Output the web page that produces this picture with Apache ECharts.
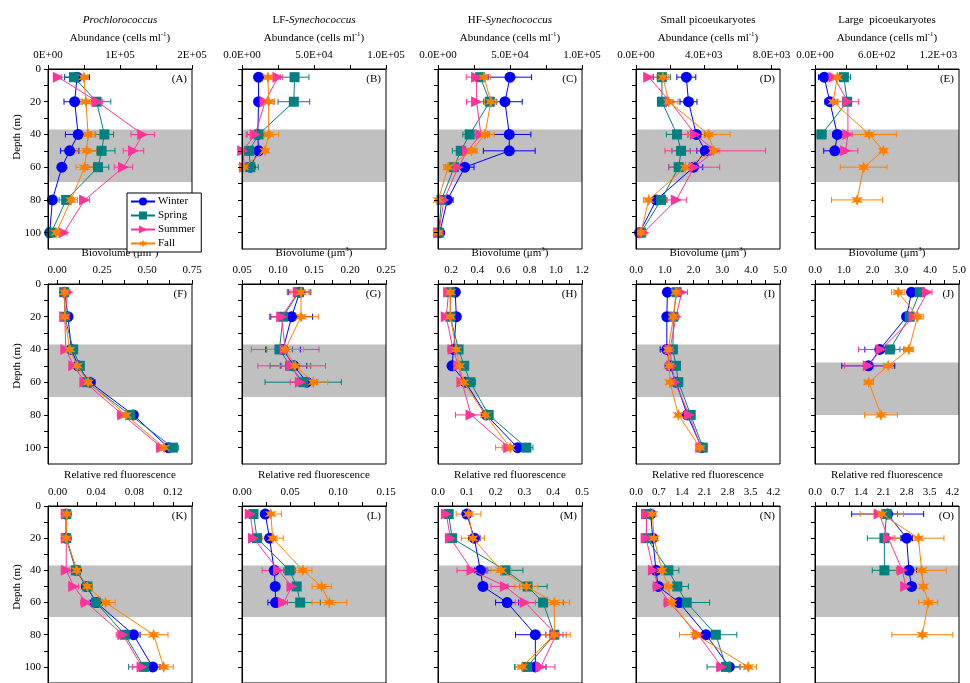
<!DOCTYPE html>
<html><head><meta charset="utf-8">
<script src="https://cdn.jsdelivr.net/npm/echarts@6/dist/echarts.min.js"></script>
<style>html,body{margin:0;padding:0;background:#fff}#c{width:970px;height:683px}</style>
</head><body><div id="c"></div>
<script>
// ---------------- DATA ----------------
const depths = [5, 20, 40, 50, 60, 80, 100];
const seasons = ['Winter', 'Spring', 'Summer', 'Fall'];
const shadedDepths = [37, 69];
const shadedDepthsJ = [48, 80];

// rows of each array: Winter, Spring, Summer, Fall ; columns follow depths
const A_mean = [
  [40300, 37000, 41900, 30100, 19200, 6100, 2400],
  [36000, 67500, 78300, 74400, 69500, 25200, 4500],
  [14300, 68500, 131500, 118700, 104900, 50800, 22200],
  [49800, 52700, 55700, 53700, 50800, 32000, 11400]];
const A_sd = [
  [17400, 14800, 17700, 12800, 4000, 2000, 1000],
  [12800, 19700, 12800, 18700, 15000, 9800, 2000],
  [4000, 7000, 16300, 14300, 12800, 7000, 4000],
  [6000, 7000, 10800, 13800, 11800, 8900, 3000]];

const B_mean = [
  [11500, 11500, 11000, 11500, 5800, null, null],
  [36500, 36000, 11500, 5000, 5800, null, null],
  [25000, 16000, 9200, 500, 1800, null, null],
  [18000, 18500, 18500, 16000, 1100, null, null]];
const B_sd = [
  [2600, 2800, 3000, 4000, 2000, null, null],
  [10000, 11000, 8000, 3000, 5500, null, null],
  [3000, 6300, 6300, 800, 1000, null, null],
  [3000, 4000, 7000, 2000, 1000, null, null]];

const C_mean = [
  [50000, 46500, 49500, 49500, 18600, 6500, 1200],
  [29300, 36000, 22000, 15800, 11200, 2400, 500],
  [26800, 26800, 29800, 20500, 14000, 4200, 500],
  [32000, 36700, 32600, 23300, 7000, 200, 0]];
const C_sd = [
  [15000, 12000, 15000, 18000, 6400, 4000, 800],
  [5000, 4500, 4700, 5800, 5800, 2000, 500],
  [7200, 7000, 5800, 5800, 4000, 2000, 500],
  [4300, 4300, 6400, 4000, 3000, 500, 300]];

const D_mean = [
  [2970, 3100, 3560, 4090, 3400, 1200, 210],
  [1530, 1530, 2420, 2660, 2520, 1480, 290],
  [750, 2020, 3500, 4680, 3440, 2380, 450],
  [1590, 1930, 4290, 4580, 2910, 750, 290]];
const D_sd = [
  [560, 500, 500, 500, 540, 400, 150],
  [500, 250, 630, 540, 590, 350, 150],
  [200, 540, 840, 2970, 1500, 590, 150],
  [350, 540, 1260, 370, 500, 300, 150]];

const E_mean = [
  [90, 144, 217, 192, null, null, null],
  [281, 313, 64, null, null, null, null],
  [185, 320, 320, 297, null, null, null],
  [217, 176, 527, 665, 473, 409, null]];
const E_sd = [
  [56, 48, 40, 107, null, null, null],
  [64, 40, 43, null, null, null, null],
  [48, 104, 40, 120, null, null, null],
  [56, 48, 264, 30, 227, 248, null]];

const F_mean = [
  [0.043, 0.061, 0.080, 0.117, 0.182, 0.424, 0.619],
  [0.040, 0.043, 0.090, 0.127, 0.167, 0.406, 0.644],
  [0.060, 0.043, 0.049, 0.093, 0.155, 0.365, 0.582],
  [0.043, 0.043, 0.071, 0.112, 0.173, 0.383, 0.595]];
const F_sd = [
  [0.010, 0.010, 0.015, 0.020, 0.030, 0.020, 0.030],
  [0.010, 0.010, 0.015, 0.020, 0.030, 0.030, 0.030],
  [0.012, 0.010, 0.015, 0.020, 0.025, 0.030, 0.030],
  [0.010, 0.010, 0.015, 0.020, 0.030, 0.040, 0.030]];

const G_mean = [
  [0.130, 0.119, 0.107, 0.122, 0.140, null, null],
  [0.129, 0.107, 0.102, 0.117, 0.135, null, null],
  [0.128, 0.105, 0.110, 0.119, 0.131, null, null],
  [0.132, 0.132, 0.110, 0.124, 0.149, null, null]];
const G_sd = [
  [0.015, 0.029, 0.024, 0.018, 0.014, null, null],
  [0.016, 0.018, 0.018, 0.028, 0.053, null, null],
  [0.015, 0.017, 0.047, 0.047, 0.014, null, null],
  [0.014, 0.024, 0.025, 0.022, 0.020, null, null]];

const H_mean = [
  [0.232, 0.240, 0.219, 0.207, 0.309, 0.469, 0.708],
  [0.194, 0.194, 0.257, 0.300, 0.347, 0.487, 0.775],
  [0.181, 0.163, 0.215, 0.257, 0.283, 0.352, 0.640],
  [0.194, 0.194, 0.240, 0.265, 0.296, 0.461, 0.652]];
const H_sd = [
  [0.02, 0.02, 0.02, 0.02, 0.03, 0.03, 0.05],
  [0.02, 0.02, 0.03, 0.03, 0.04, 0.03, 0.05],
  [0.02, 0.03, 0.04, 0.02, 0.03, 0.118, 0.05],
  [0.02, 0.02, 0.02, 0.02, 0.03, 0.03, 0.112]];

const I_mean = [
  [1.09, 1.07, 1.07, 1.18, 1.39, 1.78, 2.28],
  [1.41, 1.30, 1.28, 1.39, 1.47, 1.90, 2.32],
  [1.59, 1.39, 1.18, 1.24, 1.35, 1.85, 2.25],
  [1.39, 1.30, 1.12, 1.15, 1.18, 1.47, 2.22]];
const I_sd = [
  [0.10, 0.10, 0.23, 0.10, 0.10, 0.10, 0.12],
  [0.10, 0.10, 0.10, 0.10, 0.12, 0.10, 0.10],
  [0.20, 0.10, 0.10, 0.10, 0.10, 0.10, 0.10],
  [0.10, 0.10, 0.10, 0.10, 0.12, 0.10, 0.10]];

const J_mean = [
  [3.35, 3.18, 2.25, 1.85, null, null, null],
  [3.64, 3.29, 2.60, null, null, null, null],
  [3.90, 3.44, 2.29, 1.85, null, null, null],
  [2.89, 3.56, 3.26, 2.54, 1.87, 2.29, null]];
const J_sd = [
  [0.10, 0.13, 0.52, 0.92, null, null, null],
  [0.10, 0.23, 0.35, null, null, null, null],
  [0.16, 0.20, 0.78, 0.83, null, null, null],
  [0.23, 0.20, 0.15, 0.16, 0.16, 0.57, null]];

const K_mean = [
  [0.0090, 0.0090, 0.0196, 0.0300, 0.0404, 0.0790, 0.0990],
  [0.0090, 0.0090, 0.0190, 0.0310, 0.0400, 0.0700, 0.0900],
  [0.0090, 0.0090, 0.0090, 0.0168, 0.0300, 0.0680, 0.0880],
  [0.0095, 0.0090, 0.0200, 0.0310, 0.0500, 0.1000, 0.1105]];
const K_sd = [
  [0.001, 0.001, 0.002, 0.004, 0.006, 0.007, 0.008],
  [0.001, 0.001, 0.002, 0.005, 0.007, 0.007, 0.016],
  [0.001, 0.001, 0.003, 0.005, 0.006, 0.007, 0.010],
  [0.001, 0.001, 0.002, 0.005, 0.010, 0.015, 0.010]];

const L_mean = [
  [0.0242, 0.0287, 0.0336, 0.0346, 0.0350, null, null],
  [0.0120, 0.0156, 0.0495, 0.0570, 0.0606, null, null],
  [0.0086, 0.0120, 0.0380, 0.0520, 0.0433, null, null],
  [0.0300, 0.0320, 0.0634, 0.0830, 0.0910, null, null]];
const L_sd = [
  [0.003, 0.004, 0.004, 0.002, 0.008, null, null],
  [0.004, 0.004, 0.006, 0.004, 0.021, null, null],
  [0.003, 0.004, 0.017, 0.004, 0.004, null, null],
  [0.011, 0.011, 0.0095, 0.010, 0.018, null, null]];

const M_mean = [
  [0.100, 0.126, 0.147, 0.156, 0.240, 0.338, 0.338],
  [0.037, 0.049, 0.234, 0.311, 0.365, 0.404, 0.309],
  [0.029, 0.043, 0.118, 0.234, 0.303, 0.410, 0.357],
  [0.106, 0.121, 0.219, 0.307, 0.404, 0.404, 0.292]];
const M_sd = [
  [0.010, 0.020, 0.020, 0.010, 0.040, 0.069, 0.037],
  [0.010, 0.010, 0.061, 0.068, 0.070, 0.030, 0.043],
  [0.010, 0.010, 0.052, 0.050, 0.035, 0.035, 0.049],
  [0.043, 0.040, 0.035, 0.040, 0.053, 0.055, 0.023]];

const N_mean = [
  [0.45, 0.51, 0.61, 0.68, 1.32, 2.14, 2.85],
  [0.31, 0.33, 0.99, 1.26, 1.55, 2.44, 2.75],
  [0.33, 0.31, 0.53, 0.68, 1.02, 1.90, 2.62],
  [0.50, 0.55, 0.79, 0.99, 1.09, 1.83, 3.43]];
const N_sd = [
  [0.10, 0.10, 0.10, 0.15, 0.10, 0.30, 0.33],
  [0.10, 0.10, 0.32, 0.34, 0.70, 0.64, 0.58],
  [0.10, 0.10, 0.10, 0.10, 0.10, 0.15, 0.15],
  [0.10, 0.10, 0.10, 0.10, 0.25, 0.50, 0.25]];

const O_mean = [
  [2.22, 2.80, 2.87, 2.95, null, null, null],
  [2.19, 2.12, 2.12, null, null, null, null],
  [1.96, 2.24, 2.67, 2.77, null, null, null],
  [2.04, 3.16, 3.26, 3.31, 3.46, 3.28, null]];
const O_sd = [
  [1.10, 0.18, 0.23, 0.05, null, null, null],
  [0.33, 0.52, 0.37, null, null, null, null],
  [0.15, 0.20, 0.18, 0.05, null, null, null],
  [0.66, 0.78, 0.75, 0.10, 0.29, 0.93, null]];

// tick labels
const A_tickValues = [0, 100000, 200000];     const A_tickLabels = ['0E+00', '1E+05', '2E+05'];
const B_tickValues = [0, 50000, 100000];      const B_tickLabels = ['0.0E+00', '5.0E+04', '1.0E+05'];
const C_tickValues = [0, 50000, 100000];      const C_tickLabels = ['0.0E+00', '5.0E+04', '1.0E+05'];
const D_tickValues = [0, 4000, 8000];         const D_tickLabels = ['0.0E+00', '4.0E+03', '8.0E+03'];
const E_tickValues = [0, 600, 1200];          const E_tickLabels = ['0.0E+00', '6.0E+02', '1.2E+03'];
const F_tickValues = [0, 0.25, 0.5, 0.75];    const F_tickLabels = ['0.00', '0.25', '0.50', '0.75'];
const G_tickValues = [0.05, 0.1, 0.15, 0.2, 0.25]; const G_tickLabels = ['0.05', '0.10', '0.15', '0.20', '0.25'];
const H_tickValues = [0.2, 0.4, 0.6, 0.8, 1.0, 1.2]; const H_tickLabels = ['0.2', '0.4', '0.6', '0.8', '1.0', '1.2'];
const I_tickValues = [0, 1, 2, 3, 4, 5];      const I_tickLabels = ['0.0', '1.0', '2.0', '3.0', '4.0', '5.0'];
const J_tickValues = [0, 1, 2, 3, 4, 5];      const J_tickLabels = ['0.0', '1.0', '2.0', '3.0', '4.0', '5.0'];
const K_tickValues = [0, 0.04, 0.08, 0.12];   const K_tickLabels = ['0.00', '0.04', '0.08', '0.12'];
const L_tickValues = [0, 0.05, 0.1, 0.15];    const L_tickLabels = ['0.00', '0.05', '0.10', '0.15'];
const M_tickValues = [0, 0.1, 0.2, 0.3, 0.4, 0.5]; const M_tickLabels = ['0.0', '0.1', '0.2', '0.3', '0.4', '0.5'];
const N_tickValues = [0, 0.7, 1.4, 2.1, 2.8, 3.5, 4.2]; const N_tickLabels = ['0.0', '0.7', '1.4', '2.1', '2.8', '3.5', '4.2'];
const O_tickValues = [0, 0.7, 1.4, 2.1, 2.8, 3.5, 4.2]; const O_tickLabels = ['0.0', '0.7', '1.4', '2.1', '2.8', '3.5', '4.2'];
const depthTickValues = [0, 20, 40, 60, 80, 100];
const depthTickLabels = ['0', '20', '40', '60', '80', '100'];

const columnTitles = ['{i|Prochlorococcus}', 'LF-{i|Synechococcus}', 'HF-{i|Synechococcus}', 'Small picoeukaryotes', 'Large  picoeukaryotes'];
const rowAxisTitles = ['Abundance (cells ml{sup|-1})', 'Biovolume (\u03bcm{sup|3})', 'Relative red fluorescence'];
const panelLetters = ['(A)','(B)','(C)','(D)','(E)','(F)','(G)','(H)','(I)','(J)','(K)','(L)','(M)','(N)','(O)'];

// ---------------- LAYOUT / STYLE ----------------
const FONT = '"Liberation Serif", "Times New Roman", serif';
const colors = ['#0000ff', '#008080', '#ff3399', '#ff8000'];
const STAR = 'path://M50,0 L61,31 L93.3,25 L72,50 L93.3,75 L61,69 L50,100 L39,69 L6.7,75 L28,50 L6.7,25 L39,31 Z';
const symbols = ['circle', 'rect', 'triangle', STAR];
const symbolRot = [0, 0, -90, 0];
const symbolSizes = [11, 10, 11, 12];
const lefts = [48, 242, 438, 636, 815];
const tops = [69, 284, 506];
const W = 144, H = 180;
const depthLabelY = [137, 366, 587];

const panels = [
  {mean: A_mean, sd: A_sd, tv: A_tickValues, tl: A_tickLabels, min: 0, max: 200000, step: 50000},
  {mean: B_mean, sd: B_sd, tv: B_tickValues, tl: B_tickLabels, min: 0, max: 100000, step: 25000},
  {mean: C_mean, sd: C_sd, tv: C_tickValues, tl: C_tickLabels, min: 0, max: 100000, step: 25000},
  {mean: D_mean, sd: D_sd, tv: D_tickValues, tl: D_tickLabels, min: 0, max: 8500, step: 2000},
  {mean: E_mean, sd: E_sd, tv: E_tickValues, tl: E_tickLabels, min: 0, max: 1400, step: 300},
  {mean: F_mean, sd: F_sd, tv: F_tickValues, tl: F_tickLabels, min: -0.05, max: 0.75, step: 0.125},
  {mean: G_mean, sd: G_sd, tv: G_tickValues, tl: G_tickLabels, min: 0.05, max: 0.25, step: 0.025},
  {mean: H_mean, sd: H_sd, tv: H_tickValues, tl: H_tickLabels, min: 0.1, max: 1.2, step: 0.1},
  {mean: I_mean, sd: I_sd, tv: I_tickValues, tl: I_tickLabels, min: 0, max: 5, step: 0.5},
  {mean: J_mean, sd: J_sd, tv: J_tickValues, tl: J_tickLabels, min: 0, max: 5, step: 0.5, band: shadedDepthsJ},
  {mean: K_mean, sd: K_sd, tv: K_tickValues, tl: K_tickLabels, min: -0.01, max: 0.14, step: 0.02},
  {mean: L_mean, sd: L_sd, tv: L_tickValues, tl: L_tickLabels, min: 0, max: 0.15, step: 0.025},
  {mean: M_mean, sd: M_sd, tv: M_tickValues, tl: M_tickLabels, min: 0, max: 0.5, step: 0.05},
  {mean: N_mean, sd: N_sd, tv: N_tickValues, tl: N_tickLabels, min: 0, max: 4.4, step: 0.35},
  {mean: O_mean, sd: O_sd, tv: O_tickValues, tl: O_tickLabels, min: 0, max: 4.4, step: 0.35}
];

function minorTicks(min, max, step) {
  const out = [];
  const k0 = Math.ceil(min / step - 1e-9);
  for (let k = k0; k * step <= max + 1e-9; k++) out.push(+(k * step).toFixed(6));
  return out;
}
function labelFor(values, labels) {
  return function (v) {
    let best = 0, bd = Infinity;
    values.forEach((t, i) => { const d = Math.abs(t - v); if (d < bd) { bd = d; best = i; } });
    return labels[best];
  };
}
function errRender(params, api) {
  const x = api.value(0), y = api.value(1), e = api.value(2);
  const a = api.coord([x - e, y]), b = api.coord([x + e, y]);
  const st = {stroke: api.visual('color'), lineWidth: 1};
  const h = 3;
  return {type: 'group', children: [
    {type: 'line', shape: {x1: a[0], y1: a[1], x2: b[0], y2: b[1]}, style: st},
    {type: 'line', shape: {x1: a[0], y1: a[1] - h, x2: a[0], y2: a[1] + h}, style: st},
    {type: 'line', shape: {x1: b[0], y1: b[1] - h, x2: b[0], y2: b[1] + h}, style: st}
  ]};
}
function bandRender(params, api) {
  const cs = params.coordSys;
  const y0 = api.coord([api.value(0), api.value(1)])[1];
  const y1 = api.coord([api.value(0), api.value(2)])[1];
  return {type: 'rect', shape: {x: cs.x, y: Math.min(y0, y1), width: cs.width, height: Math.abs(y1 - y0)},
          style: {fill: '#c0c0c0'}};
}

const grids = [], xAxes = [], yAxes = [], series = [], graphics = [];
const richSet = {
  i: {fontStyle: 'italic', fontFamily: FONT, fontSize: 11, color: '#000'},
  sup: {fontFamily: FONT, fontSize: 7, color: '#000', verticalAlign: 'top', lineHeight: 14}
};

panels.forEach((p, i) => {
  const r = Math.floor(i / 5), c = i % 5;
  const L = lefts[c], T = tops[r];
  grids.push({left: L, top: T, width: W, height: H, show: true, borderColor: '#000', borderWidth: 1,
              backgroundColor: 'transparent', z: 10});
  xAxes.push({
    gridIndex: i, type: 'value', position: 'top', min: p.min, max: p.max, z: 10,
    axisLine: {show: true, onZero: false, lineStyle: {color: '#000', width: 1}},
    axisTick: {show: true, length: 4, customValues: minorTicks(p.min, p.max, p.step), lineStyle: {color: '#000'}},
    axisLabel: {show: true, customValues: p.tv, formatter: labelFor(p.tv, p.tl), margin: 8,
                fontFamily: FONT, fontSize: 11, color: '#000'},
    splitLine: {show: false},
    name: rowAxisTitles[r], nameLocation: 'middle', nameGap: 24,
    nameTextStyle: {fontFamily: FONT, fontSize: 11, color: '#000', lineHeight: 14, rich: richSet}
  });
  yAxes.push({
    gridIndex: i, type: 'value', inverse: true, min: 0, max: 110, z: 10,
    axisLine: {show: true, onZero: false, lineStyle: {color: '#000', width: 1}},
    axisTick: {show: true, length: 4, customValues: minorTicks(0, 100, 10), lineStyle: {color: '#000'}},
    axisLabel: {show: c === 0, customValues: depthTickValues, formatter: labelFor(depthTickValues, depthTickLabels),
                margin: 7, fontFamily: FONT, fontSize: 11, color: '#000'},
    splitLine: {show: false}
  });
  const band = p.band || shadedDepths;
  series.push({
    type: 'custom', name: 'band' + i, xAxisIndex: i, yAxisIndex: i, z: 1, silent: true,
    renderItem: bandRender, dimensions: ['x', 'y0', 'y1'], encode: {x: 0, y: [1, 2]},
    data: [[p.min, band[0], band[1]]]
  });
  seasons.forEach((s, k) => {
    const pts = [], errs = [];
    depths.forEach((d, j) => {
      const v = p.mean[k][j];
      if (v === null || v === undefined) return;
      pts.push([v, d]);
      errs.push([v, d, p.sd[k][j] || 0]);
    });
    series.push({
      type: 'custom', name: s + ' error', xAxisIndex: i, yAxisIndex: i, z: 3, silent: true,
      renderItem: errRender, dimensions: ['x', 'y', 'e'], encode: {x: 0, y: 1},
      itemStyle: {color: colors[k]}, data: errs
    });
    series.push({
      type: 'line', name: s, xAxisIndex: i, yAxisIndex: i, z: 4 + k * 0.1,
      data: pts, symbol: symbols[k], symbolSize: symbolSizes[k], symbolRotate: symbolRot[k],
      showSymbol: true, showAllSymbol: true,
      itemStyle: {color: colors[k], opacity: 1}, lineStyle: {color: colors[k], width: 1},
      emphasis: {disabled: true}
    });
  });
  graphics.push({type: 'text', x: L + W - 5, y: T + 10, z: 20,
    style: {text: panelLetters[i], align: 'right', verticalAlign: 'middle', fontFamily: FONT, fontSize: 11, fill: '#000'}});
});

columnTitles.forEach((t, c) => {
  graphics.push({type: 'text', x: lefts[c] + W / 2, y: 20, z: 20,
    style: {text: t, align: 'center', verticalAlign: 'middle', fontFamily: FONT, fontSize: 11, fill: '#000', rich: richSet}});
});
tops.forEach((T, r) => {
  graphics.push({type: 'text', x: 17, y: depthLabelY[r], rotation: Math.PI / 2, z: 20,
    style: {text: 'Depth (m)', align: 'center', verticalAlign: 'middle', fontFamily: FONT, fontSize: 11, fill: '#000'}});
});

const chart = echarts.init(document.getElementById('c'));
chart.setOption({
  animation: false,
  backgroundColor: '#fff',
  textStyle: {fontFamily: FONT},
  grid: grids, xAxis: xAxes, yAxis: yAxes, series: series, graphic: graphics,
  legend: {
    data: seasons, orient: 'vertical', left: 127, top: 193, z: 30,
    itemWidth: 24, itemHeight: 10, itemGap: 3, padding: [3, 6, 3, 3],
    borderColor: '#000', borderWidth: 1, backgroundColor: '#fff',
    textStyle: {fontFamily: FONT, fontSize: 11, color: '#000', padding: [0, 0, 0, -2]},
    selectedMode: false
  }
});
</script>
</body></html>
